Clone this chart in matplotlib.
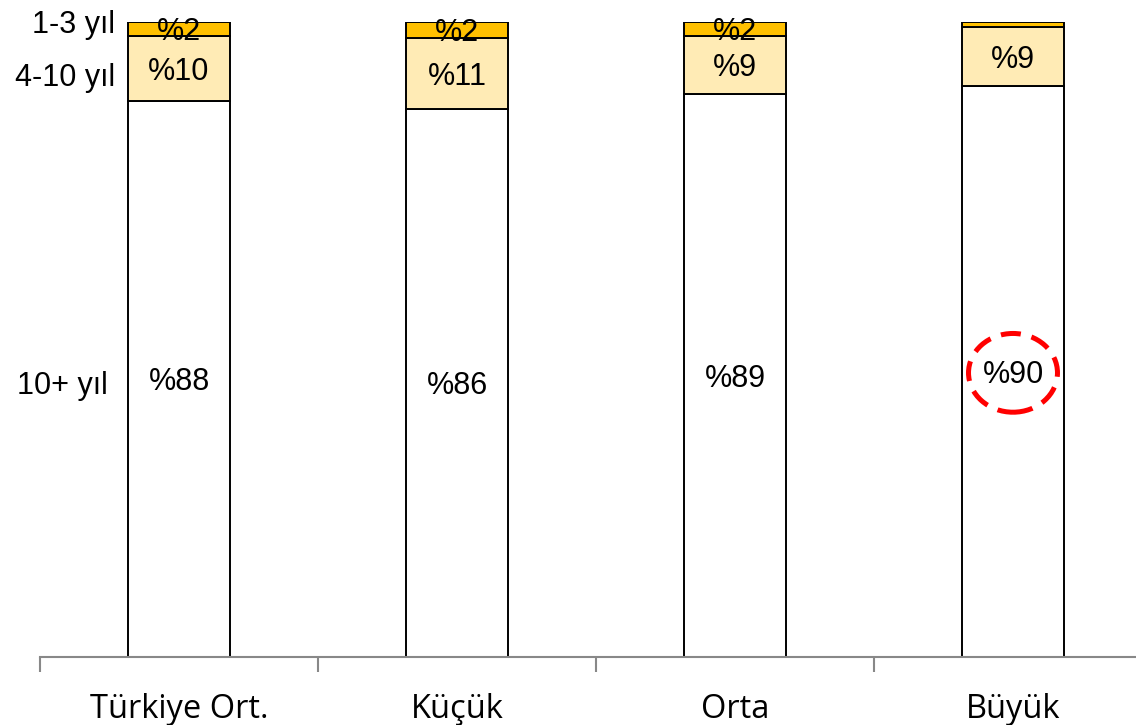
import numpy as np
import matplotlib
matplotlib.use('Agg')
import matplotlib.pyplot as plt
from matplotlib.patches import Ellipse

# veriler
categories = ['Türkiye Ort.', 'Küçük', 'Orta', 'Büyük']
series = ['10+ yıl', '4-10 yıl', '1-3 yıl']
v_10plus = [87.6, 86.3, 88.7, 89.9]
v_4_10 = [10.2, 11.2, 9.1, 9.3]
v_1_3 = [2.2, 2.5, 2.2, 0.8]
labels_10plus = ['%88', '%86', '%89', '%90']
labels_4_10 = ['%10', '%11', '%9', '%9']
labels_1_3 = ['%2', '%2', '%2', '']

colors = ['white', '#FFEBB5', '#FFC000']

fig = plt.figure(figsize=(11.36, 7.25), dpi=100)
ax = fig.add_axes([40 / 1136, 68 / 725, 1112 / 1136, 635 / 725])

x = np.arange(len(categories))
w = 0.365
bottom = np.zeros(len(categories))
all_vals = [v_10plus, v_4_10, v_1_3]
all_labels = [labels_10plus, labels_4_10, labels_1_3]
for vals, labs, col in zip(all_vals, all_labels, colors):
    vals = np.array(vals)
    ax.bar(x, vals, w, bottom=bottom, color=col, edgecolor='black', linewidth=1.4)
    for xi, b, v, lab in zip(x, bottom, vals, labs):
        if lab:
            ax.text(xi, b + v / 2, lab, ha='center', va='center_baseline',
                    fontsize=22, family='Liberation Sans')
    bottom = bottom + vals

# seri etiketleri (ilk çubuğun solunda)
series_y = [v_10plus[0] / 2 - 0.6,
            v_10plus[0] + v_4_10[0] / 2 - 1,
            v_10plus[0] + v_4_10[0] + 2.2]
series_x = [-0.255, -0.23, -0.23]
for name, xx, yy in zip(series, series_x, series_y):
    ax.text(xx, yy, name, ha='right', va='center_baseline', fontsize=22,
            family='Liberation Sans')

# Büyük %90 etrafında kesik çizgili daire
ax.add_patch(Ellipse((3, v_10plus[3] / 2 - 0.2), 0.32, 12.4, fill=False,
                     edgecolor='red', linewidth=3.6, linestyle=(0, (4, 2.2))))

ax.set_xlim(-0.5, 3.5)
ax.set_ylim(0, 100)
ax.set_yticks([])
for s in ['left', 'right', 'top']:
    ax.spines[s].set_visible(False)
ax.spines['bottom'].set_color('#888888')
ax.spines['bottom'].set_linewidth(1.5)
ax.set_xticks(np.arange(-0.5, 4, 1), minor=False)
ax.set_xticklabels([])
ax.tick_params(axis='x', which='major', length=11, width=1.5, color='#888888')
ax.set_xticks(x, minor=True)
ax.set_xticklabels(categories, minor=True, fontsize=23.5, family='Open Sans')
ax.tick_params(axis='x', which='minor', length=0, pad=26)

fig.savefig('out.png', dpi=100)
